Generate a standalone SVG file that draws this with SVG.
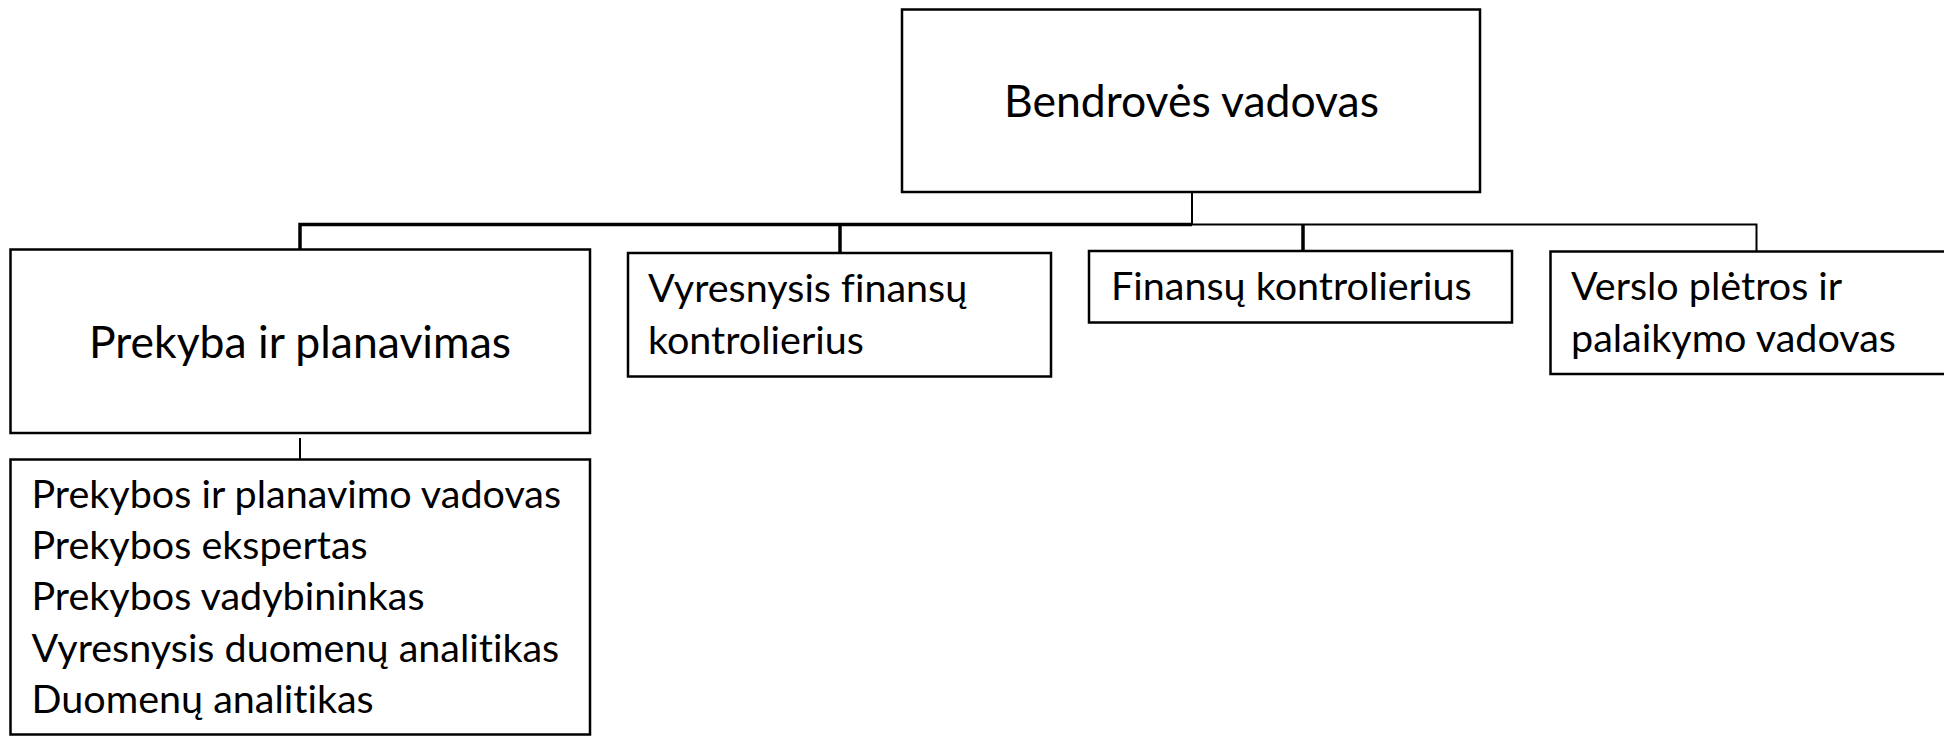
<svg xmlns="http://www.w3.org/2000/svg" width="1944" height="737" viewBox="0 0 1944 737">
<style>
.box{fill:#fff;stroke:#000;stroke-width:2.5}
.t{font-family:Lato,"Liberation Sans",sans-serif;font-size:39.5px;fill:#000;font-variant-ligatures:none;font-feature-settings:"liga" 0}
.big{font-size:44.5px}
.thick{stroke:#000;stroke-width:3.5;fill:none}
.thin{stroke:#000;stroke-width:2;fill:none}
</style>
<rect width="1944" height="737" fill="#fff"/>
<g id="connectors">
<path class="thin" d="M1192 192 V224.5"/>
<path class="thick" d="M300 252 V224.5 H1192"/>
<path class="thin" d="M1192 224.5 H1756.5 V251"/>
<path class="thick" d="M840 224.5 V253"/>
<path class="thick" d="M1303 224.5 V251"/>
<path class="thin" d="M300 438 V459"/>
</g>
<g id="n-ceo">
<rect class="box" x="902" y="9.5" width="578" height="182.5"/>
<text class="t big" x="1191.5" y="117" text-anchor="middle">Bendrovės vadovas</text>
</g>
<g id="n-prekyba">
<rect class="box" x="10.5" y="249.5" width="579.5" height="183.5"/>
<text class="t big" x="300" y="358" text-anchor="middle">Prekyba ir planavimas</text>
</g>
<g id="n-prekyba-list">
<rect class="box" x="10.5" y="459.5" width="579.5" height="275"/>
<text class="t" x="31.5" y="508">Prekybos ir planavimo vadovas</text>
<text class="t" x="31.5" y="559">Prekybos ekspertas</text>
<text class="t" x="31.5" y="610">Prekybos vadybininkas</text>
<text class="t" x="31.5" y="661.5">Vyresnysis duomenų analitikas</text>
<text class="t" x="31.5" y="713">Duomenų analitikas</text>
</g>
<g id="n-vyr-fin">
<rect class="box" x="628" y="253" width="423" height="123.5"/>
<text class="t" x="648" y="301.5">Vyresnysis finansų</text>
<text class="t" x="648" y="354">kontrolierius</text>
</g>
<g id="n-fin">
<rect class="box" x="1089" y="251" width="423" height="71.5"/>
<text class="t" x="1111" y="300">Finansų kontrolierius</text>
</g>
<g id="n-verslo">
<rect class="box" x="1550.5" y="251.5" width="400" height="122.5"/>
<text class="t" x="1571" y="300">Verslo plėtros ir</text>
<text class="t" x="1571" y="351.5">palaikymo vadovas</text>
</g>
</svg>
